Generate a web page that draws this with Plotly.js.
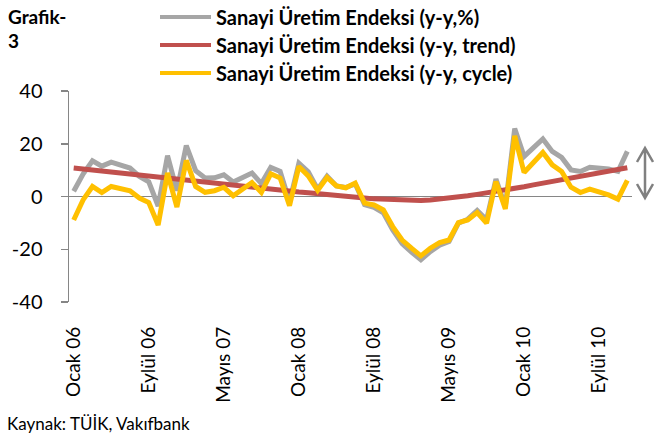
<!DOCTYPE html>
<html>
<head>
<meta charset="utf-8">
<script src="https://cdn.plot.ly/plotly-3.0.1.min.js"></script>
<style>html,body{margin:0;padding:0;background:#fff;}#chart{width:654px;height:439px;}</style>
</head>
<body>
<div id="chart"></div>
<script>
// Monthly data, Ocak 2006 – Aralık 2010
const monthNames = ["Ocak","Şubat","Mart","Nisan","Mayıs","Haziran","Temmuz","Ağustos","Eylül","Ekim","Kasım","Aralık"];
const years = ["06","07","08","09","10"];
const months = [];
years.forEach(y => monthNames.forEach(m => months.push(m + " " + y)));

const sanayiYY = [2, 8.5, 13.5, 11.5, 13, 12, 10.8, 7.6, 5.6, -3.6, 15.5, 2.2,
  19.3, 9.8, 7, 7.1, 8.2, 5.5, 7.2, 8.9, 4.9, 11, 9.5, -2,
  12.6, 9.4, 2.8, 7.7, 4, 3.4, 4.8, -3.1, -4.1, -6.2, -12.7, -17.9,
  -21.1, -24, -20.9, -18.5, -17.1, -10.1, -8.6, -5.3, -8.8, 6.6, -3.8, 25.8,
  15.2, 18.4, 21.8, 17.1, 14.8, 10.1, 9.5, 11.1, 10.8, 10.4, 9.5, 17.1];

const sanayiTrend = [10.8, 10.4, 10.0, 9.7, 9.3, 8.9, 8.5, 8.1, 7.8, 7.4, 7.0, 6.6,
  6.2, 5.8, 5.4, 5.0, 4.6, 4.3, 3.9, 3.5, 3.2, 2.8, 2.4, 2.1,
  1.7, 1.4, 1.0, 0.7, 0.3, 0.0, -0.3, -0.6, -0.9, -1.1, -1.3, -1.4,
  -1.5, -1.5, -1.3, -1.0, -0.6, -0.2, 0.3, 0.8, 1.3, 1.9, 2.5, 3.1,
  3.7, 4.4, 5.0, 5.6, 6.3, 6.9, 7.5, 8.1, 8.7, 9.5, 10.2, 10.9];

const sanayiCycle = [-8.9, -1.3, 3.8, 1.5, 3.8, 2.8, 2.2, -0.6, -2.3, -10.8, 8.9, -4,
  13.7, 3.8, 1.6, 2.2, 3.5, 0.3, 2.9, 5.3, 1.5, 8.6, 7, -3.5,
  11.4, 7.8, 2.3, 7.2, 4, 3.3, 5.1, -2.5, -3.2, -5.1, -11.4, -16.5,
  -19.6, -22.5, -19.6, -17.5, -16.5, -9.9, -8.9, -6.1, -10.1, 5.7, -4.7, 23,
  9.1, 13, 16.7, 12, 9.5, 3.5, 1.5, 2.8, 1.9, 0.6, -1, 6.1];

const seriesNames = ["Sanayi Üretim Endeksi (y-y,%)", "Sanayi Üretim Endeksi (y-y, trend)", "Sanayi Üretim Endeksi (y-y, cycle)"];
const seriesColors = ["#A6A6A6", "#C0504D", "#FFC000"];

const xTickLabels = ["Ocak 06","Eylül 06","Mayıs 07","Ocak 08","Eylül 08","Mayıs 09","Ocak 10","Eylül 10"];
const xTickIdx = xTickLabels.map(l => months.indexOf(l));
const yTickVals = [-40, -20, 0, 20, 40];
const yTickText = ["-40", "-20", "0", "20", "40"];

const xIdx = months.map((m, i) => i);
const FONT = 'Lato, "Open Sans", sans-serif';

const traces = [sanayiYY, sanayiTrend, sanayiCycle].map((vals, k) => ({
  type: "scatter", mode: "lines", x: xIdx, y: vals, name: seriesNames[k],
  text: months, hovertemplate: "%{text}: %{y}<extra></extra>",
  line: {color: seriesColors[k], width: 5}
}));

// plot-area geometry for paper conversions
const L = 69, R = 22, T = 91, B = 137, W = 654, H = 439;
const pw = W - L - R, ph = H - T - B;
const px = v => (v - L) / pw;
const py = v => (H - B - v) / ph;

const shapes = [];
const annotations = [];
const legendRows = [17, 45, 73];
seriesNames.forEach((n, k) => {
  shapes.push({type: "line", xref: "paper", yref: "paper",
    x0: px(160), x1: px(211), y0: py(legendRows[k]), y1: py(legendRows[k]),
    line: {color: seriesColors[k], width: 4}});
  annotations.push({xref: "paper", yref: "paper", x: px(214), y: py(legendRows[k]),
    xanchor: "left", yanchor: "middle", showarrow: false, text: "<b>" + n + "</b>",
    font: {family: FONT, size: 20, color: "#000"}});
});
annotations.push({xref: "paper", yref: "paper", x: px(6), y: py(17), xanchor: "left", yanchor: "middle",
  showarrow: false, text: "<b>Grafik-</b>", font: {family: FONT, size: 19, color: "#000"}});
annotations.push({xref: "paper", yref: "paper", x: px(6), y: py(40), xanchor: "left", yanchor: "middle",
  showarrow: false, text: "<b>3</b>", font: {family: FONT, size: 19, color: "#000"}});
annotations.push({xref: "paper", yref: "paper", x: px(5), y: py(423), xanchor: "left", yanchor: "middle",
  showarrow: false, text: "Kaynak: TÜİK, Vakıfbank", font: {family: FONT, size: 17, color: "#000"}});

// double-headed arrow at the right
const ax = px(645), aTop = py(148), aBot = py(198), dx = 8 / pw, dy = 14 / ph;
shapes.push({type: "path", xref: "paper", yref: "paper",
  path: `M${ax},${aTop} L${ax},${aBot} M${ax-dx},${aTop-dy} L${ax},${aTop} L${ax+dx},${aTop-dy} M${ax-dx},${aBot+dy} L${ax},${aBot} L${ax+dx},${aBot+dy}`,
  line: {color: "#808080", width: 2.5}});

const layout = {
  width: W, height: H,
  margin: {l: L, r: R, t: T, b: B, pad: 0},
  paper_bgcolor: "#fff", plot_bgcolor: "#fff",
  showlegend: false,
  font: {family: FONT, color: "#000"},
  xaxis: {
    range: [-0.5, 59.5], tickvals: xTickIdx, ticktext: xTickLabels, tickangle: -90,
    showline: false, showgrid: false, zeroline: false, ticks: "",
    tickfont: {family: FONT, size: 19, color: "#000"}, ticklabelstandoff: 20
  },
  xaxis2: {
    overlaying: "x", anchor: "free", position: 0.5, side: "bottom",
    range: [-0.5, 59.5], tickvals: xTickIdx.map(v => v - 0.5),
    ticks: "outside", ticklen: 5, tickwidth: 1.5, tickcolor: "#868686",
    showticklabels: false, showline: false, showgrid: false, zeroline: false
  },
  yaxis: {
    range: [-40, 40], tickvals: yTickVals, ticktext: yTickText,
    ticks: "outside", ticklen: 7, tickwidth: 1.5, tickcolor: "#868686",
    showline: true, linecolor: "#868686", linewidth: 1.5,
    showgrid: false, zeroline: true, zerolinecolor: "#868686", zerolinewidth: 1.5,
    tickfont: {family: FONT, size: 20, color: "#000"}, ticklabelstandoff: 14
  },
  shapes: shapes,
  annotations: annotations
};

Plotly.newPlot("chart", traces, layout, {displayModeBar: false, staticPlot: true});
</script>
</body>
</html>
